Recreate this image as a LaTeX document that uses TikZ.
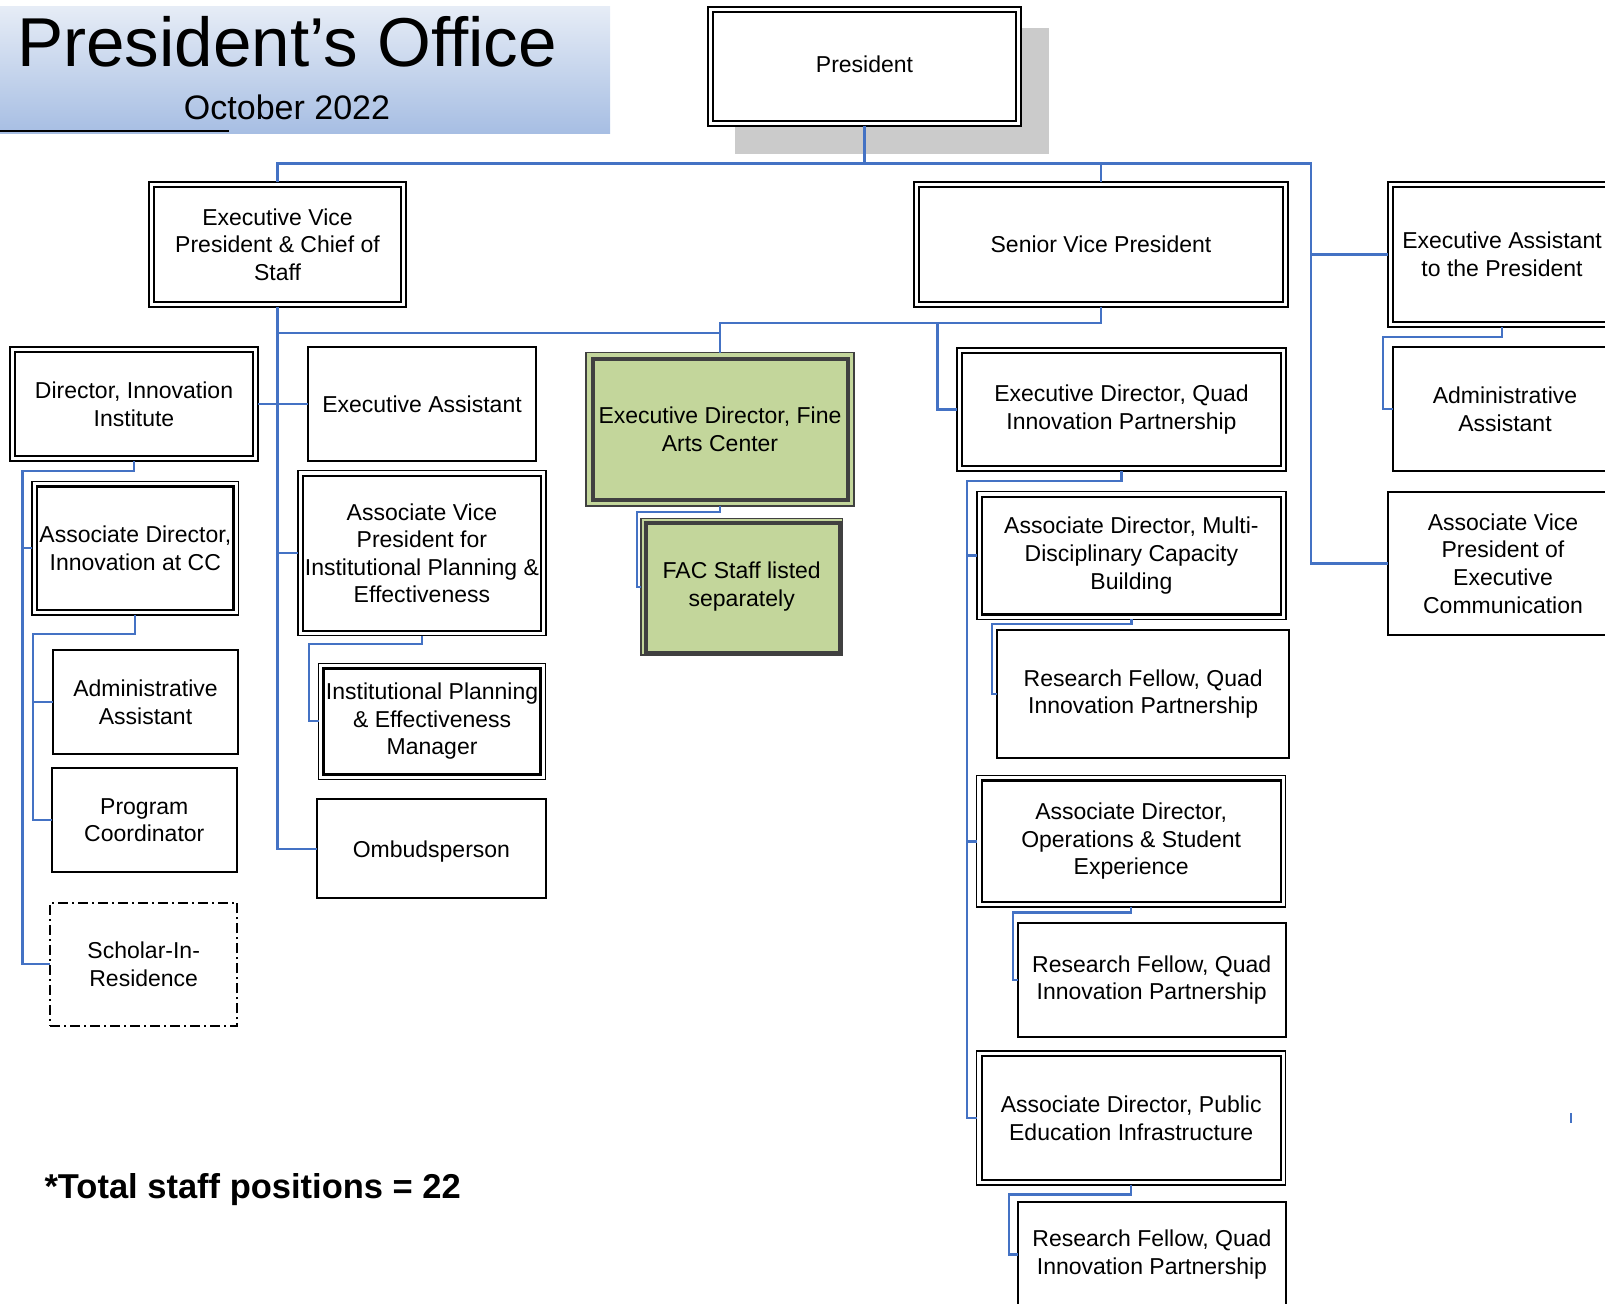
\documentclass[tikz,border=0pt]{standalone}
\usepackage{fontspec}
\setmainfont{Liberation Sans}
\usetikzlibrary{positioning}
\definecolor{linkblue}{HTML}{4472C4}
\definecolor{facgreen}{HTML}{C3D69B}
\definecolor{bannertop}{HTML}{E6ECF6}
\definecolor{bannerbot}{HTML}{A7BEE3}
\definecolor{shadowgray}{HTML}{CBCBCB}

\begin{document}
\begin{tikzpicture}[x=1pt, y=-1pt]
	\useasboundingbox (0,0) rectangle (1605,1303);
	\shade[top color=bannertop, bottom color=bannerbot] (0,7) rectangle (610,133);
	\draw[line width=2pt] (0,131) -- (229,131);
	\fill[shadowgray] (735,28) rectangle (1049,154);
	\node[font=\fontsize{69.2}{80}\selectfont, anchor=base] (title) at (287,67) {President’s Office};
	\node[font=\fontsize{34}{40}\selectfont, anchor=base] (date) at (287,120) {October 2022};
	\node[font=\bfseries\fontsize{34.5}{40}\selectfont, anchor=base west] (total) at (41,1198) {*Total staff positions = 22};

	\begin{scope}[every node/.style={rectangle, fill=white, inner sep=0pt, outer sep=0pt, align=center, font=\fontsize{23}{27.6}\selectfont},
	              sbox/.style={draw, line width=2pt},
	              dbox/.style={draw, line width=1.5pt, path picture={\draw[line width=2.4pt] ([shift={(5pt,-5pt)}]path picture bounding box.north west) rectangle ([shift={(-5pt,5pt)}]path picture bounding box.south east);}},
	              facbox/.style 2 args={draw=black!75, line width=1.2pt, fill=facgreen, path picture={\draw[line width=4pt] ([shift={(#1,-#1)}]path picture bounding box.north west) rectangle ([shift={(-#2,#2)}]path picture bounding box.south east);}},
	              dashbox/.style={draw, line width=2pt, dash pattern=on 10pt off 4pt on 2pt off 4pt}]
		\node[dbox, minimum width=313pt, minimum height=119pt, execute at begin node={\rule[-5pt]{0pt}{1pt}}] (1) at (864.5,66.5) {President};
		\node[dbox, minimum width=257pt, minimum height=125pt] (2) at (277.5,244.5) {Executive Vice\\President \& Chief of\\Staff};
		\node[dbox, minimum width=374pt, minimum height=125pt] (3) at (1101,244.5) {Senior Vice President};
		\node[dbox, minimum width=228pt, minimum height=145pt] (4) at (1502,254.5) {Executive Assistant\\to the President};
		\node[sbox, minimum width=224pt, minimum height=124pt] (5) at (1505,409) {Administrative\\Assistant};
		\node[sbox, minimum width=230pt, minimum height=143pt] (6) at (1503,563.5) {Associate Vice\\President of\\Executive\\Communication};
		\node[dbox, minimum width=248pt, minimum height=114pt] (7) at (134,404) {Director, Innovation\\Institute};
		\node[sbox, minimum width=228pt, minimum height=114pt] (8) at (422,404) {Executive Assistant};
		\node[dbox, minimum width=206.6pt, minimum height=133.3pt] (9) at (135.3,548.3) {Associate Director,\\Innovation at CC};
		\node[dbox, minimum width=247.7pt, minimum height=165pt] (10) at (421.9,553.2) {Associate Vice\\President for\\Institutional Planning \&\\Effectiveness};
		\node[sbox, minimum width=185.3pt, minimum height=104pt] (11) at (145.5,702) {Administrative\\Assistant};
		\node[sbox, minimum width=185pt, minimum height=104pt] (12) at (144.3,820.3) {Program\\Coordinator};
		\node[dashbox, minimum width=187.3pt, minimum height=123.3pt] (13) at (143.7,964.3) {Scholar-In-\\Residence};
		\node[dbox, minimum width=227.1pt, minimum height=116pt] (14) at (432.1,721.3) {Institutional Planning\\\& Effectiveness\\Manager};
		\node[sbox, minimum width=228.7pt, minimum height=99pt, execute at begin node={\rule{0pt}{21.8pt}}] (15) at (431.4,848.8) {Ombudsperson};
		\node[facbox={6.5pt}{6.5pt}, minimum width=268pt, minimum height=153.3pt] (16) at (720,429.4) {Executive Director, Fine\\Arts Center};
		\node[facbox={5pt}{2pt}, minimum width=201.3pt, minimum height=136.7pt] (17) at (741.7,586.7) {FAC Staff listed\\separately};
		\node[dbox, minimum width=329pt, minimum height=123pt] (18) at (1121.5,409.5) {Executive Director, Quad\\Innovation Partnership};
		\node[dbox, minimum width=309.3pt, minimum height=127.6pt] (19) at (1131.4,555.5) {Associate Director, Multi-\\Disciplinary Capacity\\Building};
		\node[sbox, minimum width=291.7pt, minimum height=128.3pt] (20) at (1143.2,694.2) {Research Fellow, Quad\\Innovation Partnership};
		\node[dbox, minimum width=309pt, minimum height=131.6pt] (21) at (1131.2,841.4) {Associate Director,\\Operations \& Student\\Experience};
		\node[sbox, minimum width=268pt, minimum height=114.3pt] (22) at (1151.7,979.9) {Research Fellow, Quad\\Innovation Partnership};
		\node[dbox, minimum width=309pt, minimum height=134.3pt] (23) at (1131.2,1118) {Associate Director, Public\\Education Infrastructure};
		\node[sbox, minimum width=267.4pt, minimum height=106pt] (24) at (1152,1254.5) {Research Fellow, Quad\\Innovation Partnership};
	\end{scope}

	\begin{scope}[color=linkblue, line width=2.2pt]
		\coordinate (rbus) at (1311,163.5);
		\coordinate (sbus) at (937.5,322.7);
		\coordinate (dbus) at (22.5,470.7);
		\coordinate (cbus) at (33.2,634);
		\coordinate (qbus) at (967.3,480.7);
		\coordinate (tick) at (1570.7,1113.3);
		\draw (1.south) -- ++(0,37.5) -| (2.north);
		\draw (1.south) -- ++(0,37.5) -| (3.north);
		\draw (1.south) -- ++(0,37.5) -| (rbus) |- (6.west);
		\draw (rbus) |- (4.west);
		\draw (4.south) -- ++(0,9.7) -| ([xshift=-9.7pt]5.west) -- (5.west);
		\draw (2.south) |- (15.west);
		\draw (2.south) |- (10.west);
		\draw (7.east) -- (8.west);
		\draw (2.south) -- ++(0,25.7) -| (16.north);
		\draw (3.south) -- ++(0,15.7) -| (16.north);
		\draw (sbus) |- (18.west);
		\draw (7.south) -- ++(0,9.7) -| (dbus) |- (13.west);
		\draw (dbus) |- (9.west);
		\draw (9.south) -- ++(0,19) -| (cbus) |- (12.west);
		\draw (cbus) |- (11.west);
		\draw (10.south) -- ++(0,8.6) -| ([xshift=-9.3pt]14.west) -- (14.west);
		\draw (16.south) -- ++(0,5.7) -| ([xshift=-4.3pt]17.west) -- (17.west);
		\draw (18.south) -- ++(0,9.7) -| (qbus) |- (23.west);
		\draw (qbus) |- (19.west);
		\draw (qbus) |- (21.west);
		\draw (19.south) -- ++(0,4.7) -| ([xshift=-5pt]20.west) -- (20.west);
		\draw (21.south) -- ++(0,5.2) -| ([xshift=-4.4pt]22.west) -- (22.west);
		\draw (23.south) -- ++(0,9.4) -| ([xshift=-9.3pt]24.west) -- (24.west);
		\draw (tick) -- ++(0,10);
	\end{scope}
\end{tikzpicture}
\end{document}
